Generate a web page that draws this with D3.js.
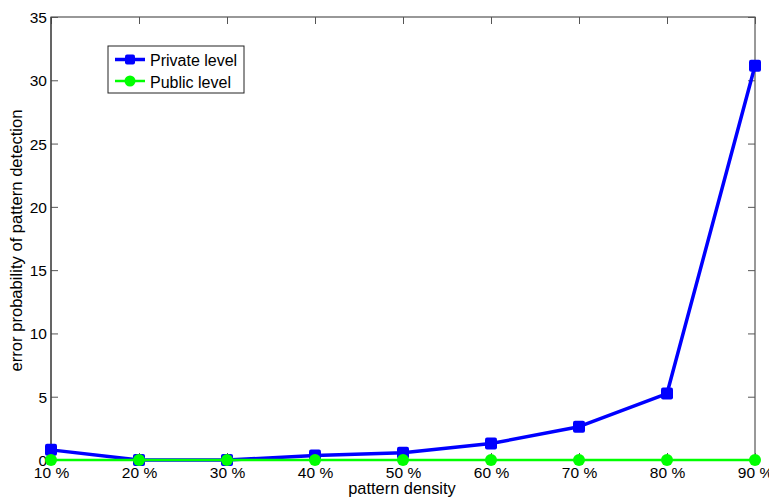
<!DOCTYPE html>
<html><head><meta charset="utf-8">
<script src="https://cdn.jsdelivr.net/npm/d3@7"></script>
<style>body{margin:0;background:#fff}svg{display:block}text{font-family:"Liberation Sans",Arial,sans-serif}</style>
</head><body>
<svg id="c" width="769" height="503"></svg>
<script>
const categories = ["10 %","20 %","30 %","40 %","50 %","60 %","70 %","80 %","90 %"];
const privateLevel = [0.8, 0, 0, 0.35, 0.58, 1.3, 2.63, 5.25, 31.15];
const publicLevel = [0, 0, 0, 0, 0, 0, 0, 0, 0];
const yTicks = [0,5,10,15,20,25,30,35];
const seriesNames = ["Private level","Public level"];

const svg = d3.select("#c");
const L=51, R=755, T=17, B=460;
const x = d3.scalePoint().domain(categories).range([L,R]);
const y = d3.scaleLinear().domain([0,35]).range([B,T]);

// box
svg.append("rect").attr("x",L).attr("y",T).attr("width",R-L).attr("height",B-T)
  .attr("fill","#fff").attr("stroke","#333").attr("stroke-width",1);

// axes
const xAxis = svg.append("g").attr("transform",`translate(0,${B})`)
  .call(d3.axisBottom(x).tickSize(-7).tickPadding(10));
const xTop = svg.append("g").attr("transform",`translate(0,${T})`)
  .call(d3.axisTop(x).tickSize(-7).tickFormat(""));
const yAxis = svg.append("g").attr("transform",`translate(${L},0)`)
  .call(d3.axisLeft(y).tickValues(yTicks).tickSize(-7).tickPadding(4));
const yRight = svg.append("g").attr("transform",`translate(${R},0)`)
  .call(d3.axisRight(y).tickValues(yTicks).tickSize(-7).tickFormat(""));
[xAxis,xTop,yAxis,yRight].forEach(g=>{
  g.select(".domain").remove();
  g.selectAll("line").attr("stroke","#555");
  g.selectAll("text").attr("font-size",15.5).attr("fill","#000")
   .style("font-family","'Liberation Sans',Arial,sans-serif");
});
xAxis.selectAll("text").attr("dy","0.5em");
yAxis.selectAll("text").attr("dy","0.35em");

// bottom/left axis darker lines
svg.append("line").attr("x1",L).attr("x2",R).attr("y1",B).attr("y2",B).attr("stroke","#000");
svg.append("line").attr("x1",L).attr("x2",L).attr("y1",T).attr("y2",B).attr("stroke","#333");

// lines
const line = d3.line().x((d,i)=>x(categories[i])).y(d=>y(d));
svg.append("path").datum(privateLevel).attr("d",line).attr("fill","none")
  .attr("stroke","#0000ff").attr("stroke-width",3.5).attr("stroke-linejoin","round");
svg.selectAll(".sq").data(privateLevel).enter().append("rect")
  .attr("x",(d,i)=>x(categories[i])-6).attr("y",d=>y(d)-6)
  .attr("width",12).attr("height",12).attr("rx",2).attr("fill","#0000ff");
svg.append("path").datum(publicLevel).attr("d",line).attr("fill","none")
  .attr("stroke","#00ff00").attr("stroke-width",2.5);
svg.selectAll(".ci").data(publicLevel).enter().append("circle")
  .attr("cx",(d,i)=>x(categories[i])).attr("cy",d=>y(d)).attr("r",6).attr("fill","#00ff00");

// axis labels
svg.append("text").attr("x",402).attr("y",494).attr("text-anchor","middle")
  .attr("font-size",16.4).text("pattern density");
svg.append("text").attr("transform","translate(22,240.5) rotate(-90)").attr("text-anchor","middle")
  .attr("font-size",16.6).text("error probability of pattern detection");

// legend
const lg = svg.append("g");
lg.append("rect").attr("x",108).attr("y",46).attr("width",136).attr("height",47)
  .attr("fill","#fff").attr("stroke","#222");
const colors=["#0000ff","#00ff00"];
seriesNames.forEach((n,i)=>{
  const yy = 59.5 + i*21.5;
  lg.append("line").attr("x1",115).attr("x2",145).attr("y1",yy).attr("y2",yy)
    .attr("stroke",colors[i]).attr("stroke-width",i?2.5:3.5);
  if(i===0) lg.append("rect").attr("x",125).attr("y",yy-5).attr("width",10).attr("height",10).attr("rx",2).attr("fill",colors[i]);
  else lg.append("circle").attr("cx",130).attr("cy",yy).attr("r",5.5).attr("fill",colors[i]);
  lg.append("text").attr("x",150).attr("y",yy+6.5).attr("font-size",16).text(n);
});
</script>
</body></html>
